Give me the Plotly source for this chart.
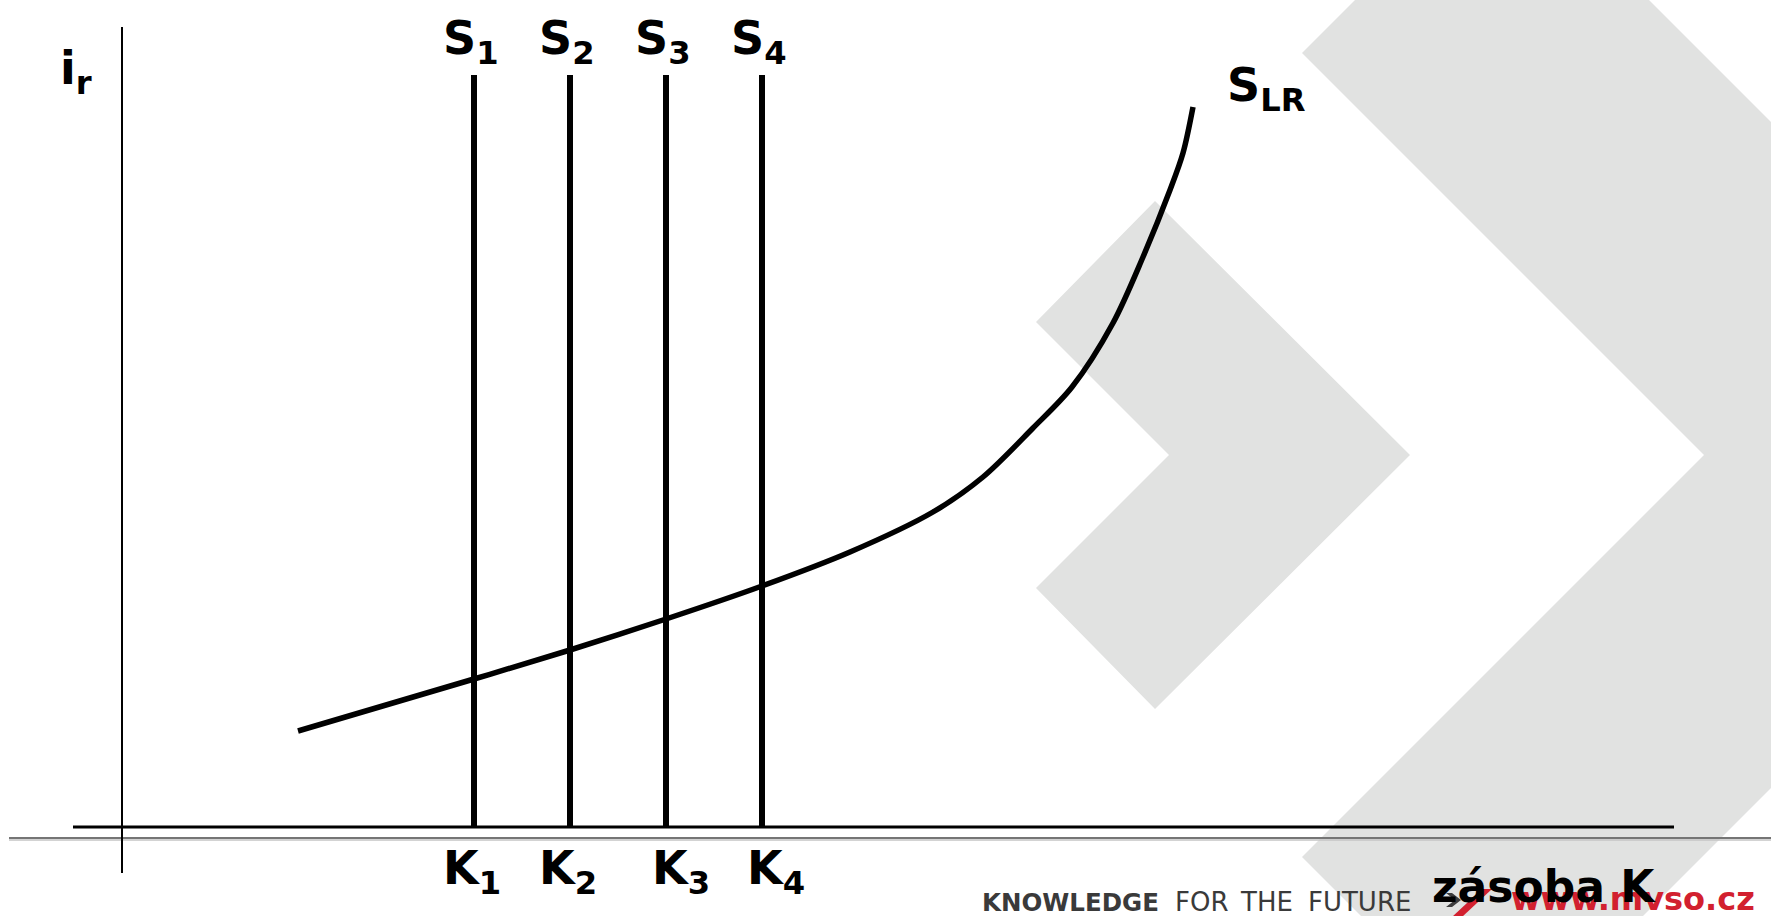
import plotly.graph_objects as go

# origin of the diagram (axis crossing) in page pixels
X0, Y0 = 122, 827

# DATA
# capital stock levels K1..K4 (horizontal units from the i_r axis)
k_levels = [352, 448, 544, 640]
k_labels = ["K<sub>1</sub>", "K<sub>2</sub>", "K<sub>3</sub>", "K<sub>4</sub>"]
s_labels = ["S<sub>1</sub>", "S<sub>2</sub>", "S<sub>3</sub>", "S<sub>4</sub>"]
s_top = 752

# long run supply curve S_LR
slr_k = [176, 352, 448, 544, 640, 728, 811, 861, 911, 950, 991, 1021, 1048, 1061, 1071]
slr_i = [96, 148, 177, 208, 241, 275, 315, 350, 399, 440, 504, 570, 637, 674, 720]

# axis extents
y_axis_span = [-46, 800]
x_axis_span = [-49, 1552]


def px(x, y):
    # page pixel -> diagram coords
    return x - X0, Y0 - y


def path(points):
    pts = [px(x, y) for x, y in points]
    return "M " + " L ".join(f"{a},{b}" for a, b in pts) + " Z"


fig = go.Figure()

# S1..S4 vertical supply lines
for k in k_levels:
    fig.add_trace(go.Scatter(
        x=[k, k], y=[0, s_top],
        mode="lines",
        line={"color": "black", "width": 6},
        hoverinfo="skip",
    ))

# S_LR curve
fig.add_trace(go.Scatter(
    x=slr_k, y=slr_i,
    mode="lines",
    line={"color": "black", "width": 5.5, "shape": "spline", "smoothing": 0.9},
    hoverinfo="skip",
))

shapes = []
grey = "#e1e2e1"
# background chevrons (slide template)
shapes.append(dict(type="path", xref="x", yref="y", layer="below", line_width=0, fillcolor=grey,
                   path=path([(1036, 322), (1155, 201), (1410, 455), (1155, 709), (1036, 588), (1169, 455)])))
shapes.append(dict(type="path", xref="x", yref="y", layer="below", line_width=0, fillcolor=grey,
                   path=path([(1302, 53), (1502, -147), (2104, 455), (1502, 1057), (1302, 857), (1704, 455)])))

# slide separator line
sx0, sy0 = px(9, 838)
sx1, _ = px(1771, 838)
shapes.append(dict(type="line", xref="x", yref="y", layer="below", x0=sx0, x1=sx1, y0=sy0, y1=sy0,
                   line={"color": "#757575", "width": 2}))
shapes.append(dict(type="line", xref="x", yref="y", layer="below", x0=sx0, x1=sx1, y0=sy0 - 2, y1=sy0 - 2,
                   line={"color": "#c4c4c4", "width": 1.5}))

# red / grey arrow of the footer logo
shapes.append(dict(type="path", xref="x", yref="y", layer="below", line_width=0, fillcolor="#d2202f",
                   path=path([(1452, 917), (1462, 917), (1492, 889), (1482, 889)])))
shapes.append(dict(type="path", xref="x", yref="y", layer="below", line_width=0, fillcolor="#3c3c3c",
                   path=path([(1446, 893), (1452, 893), (1461, 900), (1452, 907), (1446, 907), (1455, 900)])))

# axes
shapes.append(dict(type="line", xref="x", yref="y", x0=0, x1=0, y0=y_axis_span[0], y1=y_axis_span[1],
                   line={"color": "black", "width": 2}))
shapes.append(dict(type="line", xref="x", yref="y", x0=x_axis_span[0], x1=x_axis_span[1], y0=0, y1=0,
                   line={"color": "black", "width": 3}))

big = {"family": "DejaVu Sans, Verdana, sans-serif", "size": 46, "color": "black", "weight": "bold"}
annotations = []

# S labels above the lines, K labels below the axis
k_nudge = [-2, -2, 15, 14]
for k, s_txt, k_txt, dk in zip(k_levels, s_labels, k_labels, k_nudge):
    lx, ly = k - 3, Y0 - 41
    annotations.append(dict(x=lx, y=ly, text=s_txt, showarrow=False, font=big,
                            xanchor="center", yanchor="middle"))
    annotations.append(dict(x=k + dk, y=Y0 - 871, text=k_txt, showarrow=False, font=big,
                            xanchor="center", yanchor="middle"))

ax, ay = px(76, 71)
annotations.append(dict(x=ax, y=ay, text="i<sub>r</sub>", showarrow=False, font=big,
                        xanchor="center", yanchor="middle"))
ax, ay = px(1266, 88)
annotations.append(dict(x=ax, y=ay, text="S<sub>LR</sub>", showarrow=False, font=big,
                        xanchor="center", yanchor="middle"))

# footer of the slide
foot = {"family": "DejaVu Sans, sans-serif", "size": 26, "color": "#3a3a3a"}
for word, left, bold in [("KNOWLEDGE", 980, True), ("FOR", 1173, False), ("THE", 1238, False),
                         ("FUTURE", 1306, False)]:
    ax, ay = px(left, 902)
    f = dict(foot, weight="bold", size=24.5) if bold else foot
    annotations.append(dict(x=ax, y=ay, text=word, showarrow=False, xanchor="left", yanchor="middle",
                            font=f))
ax, ay = px(1509, 899)
annotations.append(dict(x=ax, y=ay, text="www.mvso.cz", showarrow=False, xanchor="left", yanchor="middle",
                        font={"family": "DejaVu Sans, sans-serif", "size": 32, "color": "#d2202f",
                              "weight": "bold"}))

# x axis title
ax, ay = px(1544, 886)
annotations.append(dict(x=ax, y=ay, text="zásoba K", showarrow=False, xanchor="center", yanchor="middle",
                        font=dict(big, size=44)))

fig.update_layout(
    width=1771,
    height=916,
    margin={"l": 0, "r": 0, "t": 0, "b": 0},
    showlegend=False,
    plot_bgcolor="white",
    paper_bgcolor="white",
    xaxis={"range": [-X0, 1771 - X0], "visible": False, "fixedrange": True},
    yaxis={"range": [Y0 - 916, Y0], "visible": False, "fixedrange": True},
    shapes=shapes,
    annotations=annotations,
)

# page body has a default 8px margin, drop it so the slide fills the window
fig.write_html("out.html", config={"displayModeBar": False},
               post_script="document.body.style.margin='0';document.body.style.overflow='hidden';")
